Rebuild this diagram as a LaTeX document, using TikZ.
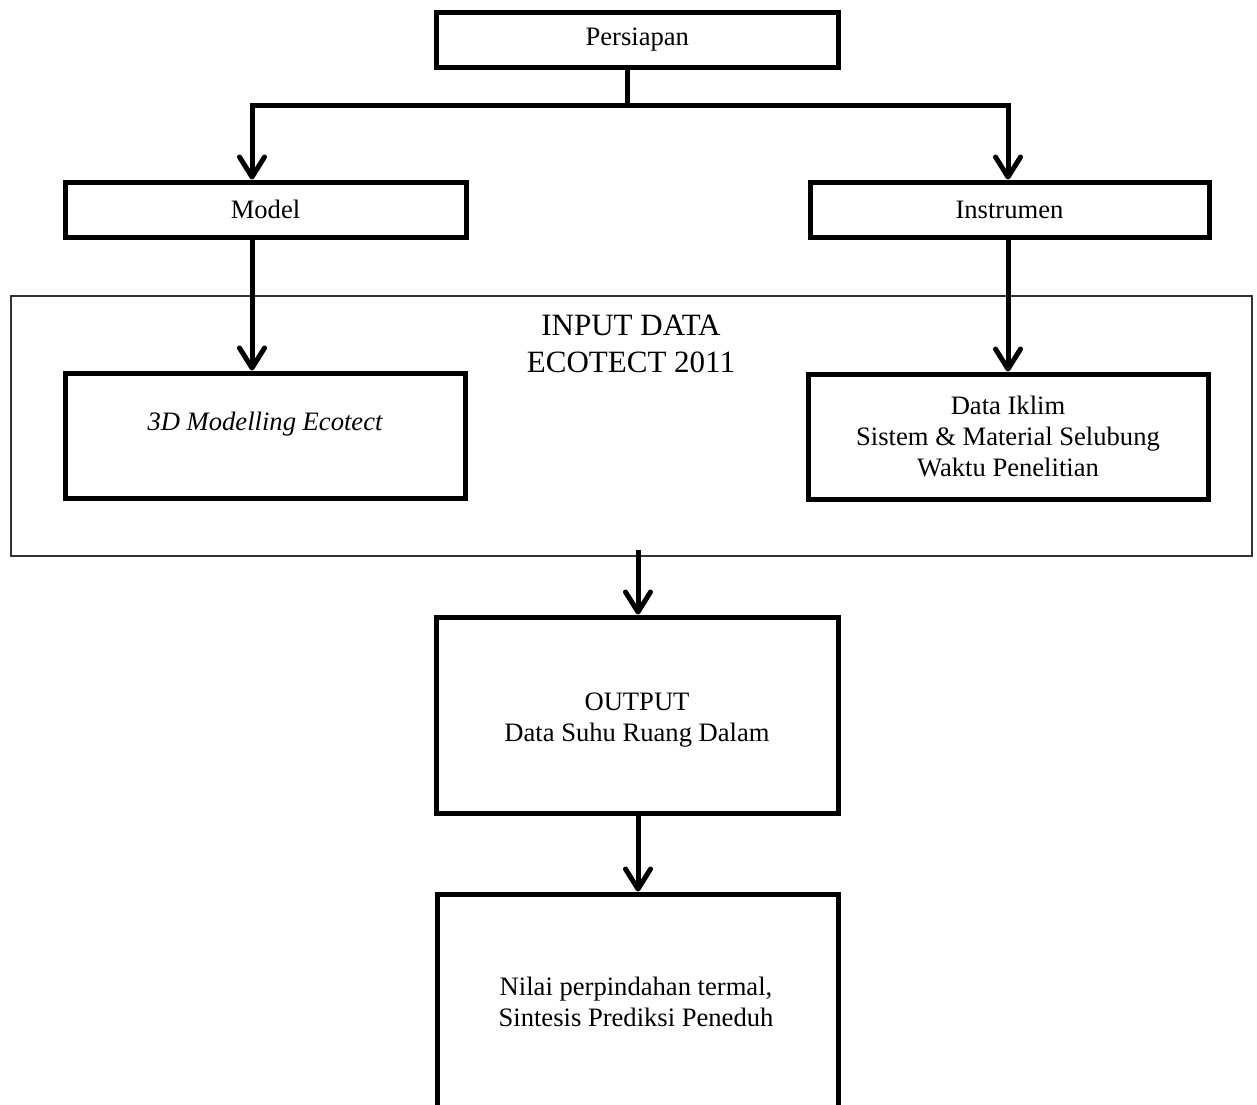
\documentclass[tikz,border=0pt]{standalone}
\usepackage{fontspec}
\setmainfont{Liberation Serif}
\usetikzlibrary{arrows.meta}
\begin{document}
\begin{tikzpicture}[x=1pt,y=-1pt,
  boxnode/.style={draw, rectangle, line width=5pt, inner sep=0pt, align=center,
    font=\fontsize{26.6}{31}\selectfont},
  txt/.style={inner sep=0pt, align=center, font=\fontsize{26.6}{31}\selectfont},
  frame/.style={draw=black!80, rectangle, line width=1.5pt, inner sep=0pt},
  conn/.style={line width=5pt},
  arr/.style={line width=5pt, -{Straight Barb[length=20pt,width=25pt,round]}}]
\useasboundingbox (0,0) rectangle (1257,1104);
\clip (0,0) rectangle (1257,1104);

% frame
\node[frame, minimum width=1241pt, minimum height=260pt] (inputbox) at (631.5,426) {};
\node[txt, font=\fontsize{31}{37}\selectfont] (inputlabel) at (631,343.5) {INPUT DATA\\ECOTECT 2011};

% boxes
\node[boxnode, minimum width=401.5pt, minimum height=55pt] (persiapan) at (637.25,39.5) {Persiapan};
\node[boxnode, minimum width=401pt, minimum height=55pt] (model) at (265.5,209.5) {Model};
\node[boxnode, minimum width=399pt, minimum height=55pt] (instrumen) at (1009.5,209.5) {Instrumen};
\node[boxnode, minimum width=400pt, minimum height=125pt] (box3d) at (265,435.5) {};
\node[txt, font=\fontsize{26.6}{31}\selectfont\itshape] (text3d) at (265,424.5) {3D Modelling Ecotect};
\node[boxnode, minimum width=400pt, minimum height=125pt] (data) at (1008,436.5) {Data Iklim\\Sistem \& Material Selubung\\Waktu Penelitian};
\node[boxnode, minimum width=402pt, minimum height=196pt] (output) at (637,715) {};
\node[txt] (outputtext) at (637,720) {OUTPUT\\Data Suhu Ruang Dalam};
\node[boxnode, minimum width=401pt, minimum height=240pt] (nilai) at (637.5,1014) {};
\node[txt] (nilaitext) at (636,1001.5) {Nilai perpindahan termal,\\Sintesis Prediksi Peneduh};

% connectors
\coordinate (split) at (627,105);
\coordinate (lc) at (252,105);
\coordinate (rc) at (1008,105);
\coordinate (inbot) at (638,550);
\draw[conn] (persiapan.south -| split) -- (split);
\draw[arr] (split) -- (lc) -- (lc |- model.north);
\draw[arr] (split) -- (rc) -- (rc |- instrumen.north);
\draw[arr] (model.south -| lc) -- (box3d.north -| lc);
\draw[arr] (instrumen.south -| rc) -- (data.north -| rc);
\draw[arr] (inbot) -- (inbot |- output.north);
\draw[arr] (output.south -| inbot) -- (nilai.north -| inbot);
\end{tikzpicture}
\end{document}
